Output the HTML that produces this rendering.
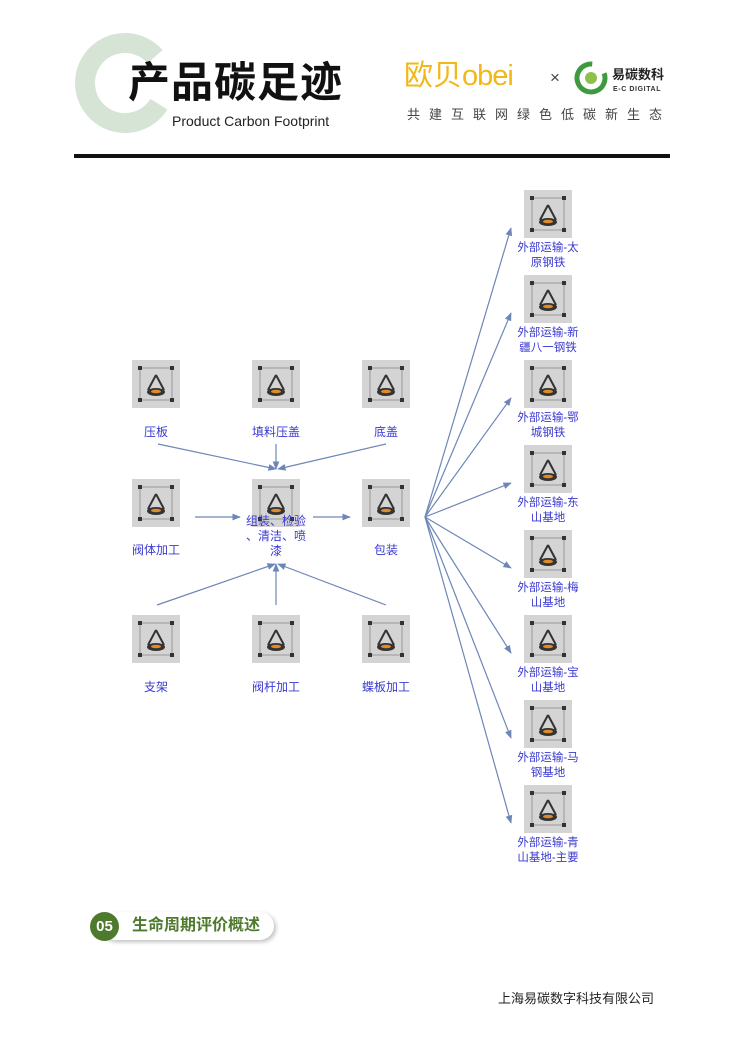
<!DOCTYPE html>
<html><head><meta charset="utf-8"><style>
body{margin:0;width:744px;height:1053px;background:#fff;position:relative;overflow:hidden;font-family:"Liberation Sans","Noto Sans CJK SC",sans-serif}
.a{position:absolute;white-space:nowrap}
</style></head><body>
<svg class="a" style="left:0;top:0" width="744" height="1053" viewBox="0 0 744 1053">
<defs>
<g id="ic">
<rect x="0" y="0" width="48" height="48" fill="#d4d4d4"/>
<line x1="8" y1="8" x2="40" y2="8" stroke="#999" stroke-width="1"/>
<line x1="8" y1="40" x2="40" y2="40" stroke="#999" stroke-width="1"/>
<line x1="8" y1="8" x2="8" y2="40" stroke="#999" stroke-width="1"/>
<line x1="40" y1="8" x2="40" y2="40" stroke="#999" stroke-width="1"/>
<rect x="6" y="6" width="4" height="4" fill="#333"/><rect x="38" y="6" width="4" height="4" fill="#333"/>
<rect x="6" y="38" width="4" height="4" fill="#333"/><rect x="38" y="38" width="4" height="4" fill="#333"/>
<path d="M24 15 L16 30 M24 15 L32 30" stroke="#333" stroke-width="2" fill="none"/>
<ellipse cx="24" cy="32" rx="9" ry="4" fill="#333"/>
<ellipse cx="24" cy="31.5" rx="5" ry="1.8" fill="#e08a2a"/>
</g>
<marker id="ar" viewBox="0 0 10 10" refX="9" refY="5" markerWidth="7" markerHeight="7" orient="auto"><path d="M0 1 L10 5 L0 9 Z" fill="#6d86b8"/></marker>
</defs>
<circle cx="125" cy="83" r="40" fill="none" stroke="#d6e4d6" stroke-width="20" stroke-dasharray="200 52" transform="rotate(32 125 83)"/>
<rect x="74" y="154" width="596" height="4" fill="#111"/>
<circle cx="591" cy="78" r="14" fill="none" stroke="#3f9a3f" stroke-width="5" stroke-dasharray="72 16" transform="rotate(-20 591 78)"/>
<circle cx="591" cy="78" r="6" fill="#8dc24a"/>
<use href="#ic" x="132" y="360"/><use href="#ic" x="252" y="360"/><use href="#ic" x="362" y="360"/>
<use href="#ic" x="132" y="479"/><use href="#ic" x="252" y="479"/><use href="#ic" x="362" y="479"/>
<use href="#ic" x="132" y="615"/><use href="#ic" x="252" y="615"/><use href="#ic" x="362" y="615"/>
<use href="#ic" x="524" y="190"/><use href="#ic" x="524" y="275"/><use href="#ic" x="524" y="360"/><use href="#ic" x="524" y="445"/>
<use href="#ic" x="524" y="530"/><use href="#ic" x="524" y="615"/><use href="#ic" x="524" y="700"/><use href="#ic" x="524" y="785"/>
<g stroke="#6d86b8" stroke-width="1.2" fill="none" marker-end="url(#ar)">
<line x1="158" y1="444" x2="276" y2="469"/>
<line x1="276" y1="444" x2="276" y2="469"/>
<line x1="386" y1="444" x2="278" y2="469"/>
<line x1="195" y1="517" x2="240" y2="517"/>
<line x1="313" y1="517" x2="350" y2="517"/>
<line x1="157" y1="605" x2="275" y2="564"/>
<line x1="276" y1="605" x2="276" y2="564"/>
<line x1="386" y1="605" x2="278" y2="564"/>
<line x1="425" y1="517" x2="511" y2="228"/>
<line x1="425" y1="517" x2="511" y2="313"/>
<line x1="425" y1="517" x2="511" y2="398"/>
<line x1="425" y1="517" x2="511" y2="483"/>
<line x1="425" y1="517" x2="511" y2="568"/>
<line x1="425" y1="517" x2="511" y2="653"/>
<line x1="425" y1="517" x2="511" y2="738"/>
<line x1="425" y1="517" x2="511" y2="823"/>
</g>
<g font-family="Liberation Sans, Noto Sans CJK SC, sans-serif" font-size="12" fill="#3a3ad0" text-anchor="middle">
<text x="156" y="436">压板</text><text x="276" y="436">填料压盖</text><text x="386" y="436">底盖</text>
<text x="156" y="554">阀体加工</text><text x="386" y="554">包装</text>
<text x="276" y="525">组装、检验</text><text x="276" y="540">、清洁、喷</text><text x="276" y="555">漆</text>
<text x="156" y="691">支架</text><text x="276" y="691">阀杆加工</text><text x="386" y="691">蝶板加工</text>
<g font-size="11.5">
<text x="548" y="251">外部运输-太</text><text x="548" y="266">原钢铁</text>
<text x="548" y="336">外部运输-新</text><text x="548" y="351">疆八一钢铁</text>
<text x="548" y="421">外部运输-鄂</text><text x="548" y="436">城钢铁</text>
<text x="548" y="506">外部运输-东</text><text x="548" y="521">山基地</text>
<text x="548" y="591">外部运输-梅</text><text x="548" y="606">山基地</text>
<text x="548" y="676">外部运输-宝</text><text x="548" y="691">山基地</text>
<text x="548" y="761">外部运输-马</text><text x="548" y="776">钢基地</text>
<text x="548" y="846">外部运输-青</text><text x="548" y="861">山基地-主要</text>
</g></g>
</svg>
<div class="a" style="left:128px;top:58px;font-size:42px;font-weight:bold;color:#111;letter-spacing:1px;line-height:50px">产品碳足迹</div>
<div class="a" style="left:172px;top:113px;font-size:14px;color:#222">Product Carbon Footprint</div>
<div class="a" style="left:404px;top:58px;font-size:29px;color:#f2b817;line-height:36px">欧贝<span style="letter-spacing:-1px">obei</span></div>
<div class="a" style="left:550px;top:68px;font-size:17px;color:#444">×</div>
<div class="a" style="left:612px;top:67px;font-size:13px;font-weight:bold;color:#222;line-height:16px">易碳数科</div>
<div class="a" style="left:613px;top:86px;font-size:7px;font-weight:bold;color:#333;letter-spacing:0.6px;line-height:8px">E-C DIGITAL</div>
<div class="a" style="left:407px;top:104px;font-size:13px;color:#444;letter-spacing:9px">共建互联网绿色低碳新生态</div>
<div class="a" style="left:100px;top:912px;width:174px;height:28px;border-radius:14px;background:#fff;box-shadow:2px 2px 4px rgba(0,0,0,0.25)"></div>
<div class="a" style="left:90px;top:912px;width:29px;height:29px;border-radius:50%;background:#4e7a2e;color:#fff;font-size:15px;font-weight:bold;text-align:center;line-height:29px">05</div>
<div class="a" style="left:132px;top:915px;font-size:16px;font-weight:bold;color:#4e7a2e;line-height:22px">生命周期评价概述</div>
<div class="a" style="left:498px;top:988px;font-size:13px;color:#222">上海易碳数字科技有限公司</div>
</body></html>
